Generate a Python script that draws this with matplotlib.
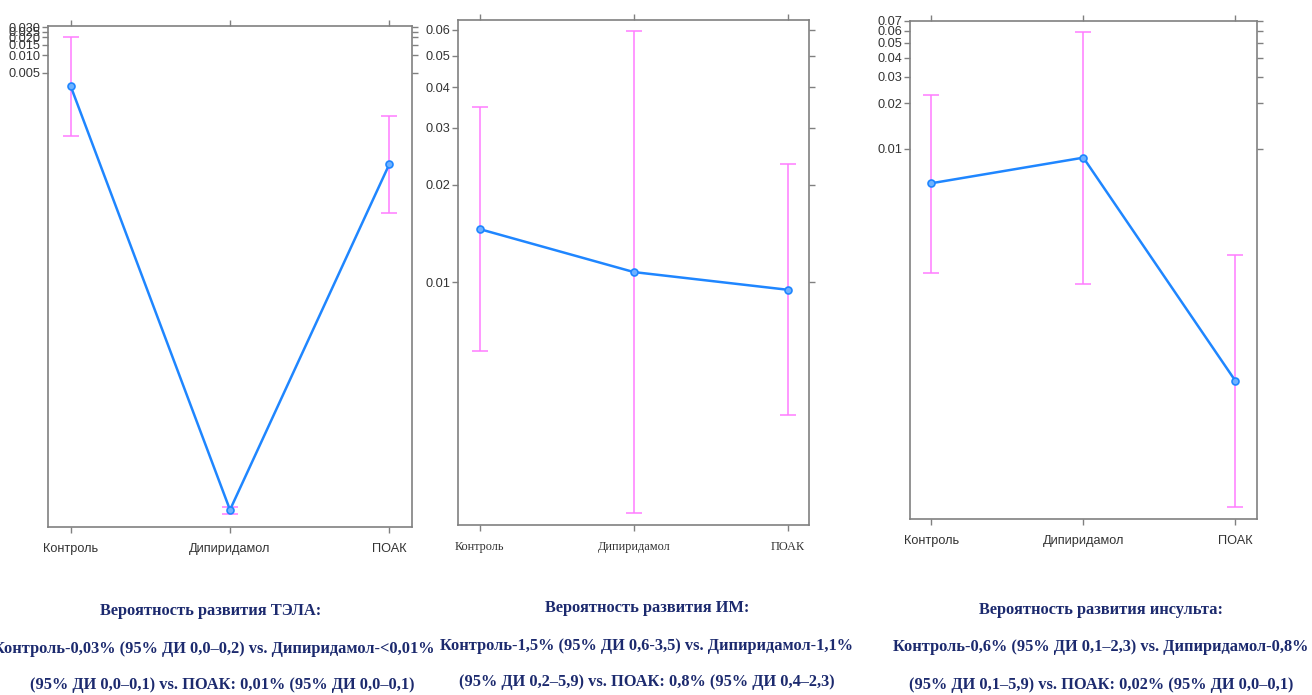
import matplotlib
matplotlib.use("Agg")
import matplotlib.pyplot as plt
from matplotlib import font_manager
from matplotlib.ticker import FixedLocator, FixedFormatter, NullLocator

# ---------------- data ----------------
categories = ["Контроль", "Дипиридамол", "ПОАК"]

tela_est = [0.00297, 1.78e-10, 1.39e-4]
tela_low = [4.22e-4, 1.52e-10, 2.06e-5]
tela_up = [0.0200, 2.03e-10, 9.25e-4]
tela_ticks = [0.005, 0.010, 0.015, 0.020, 0.025, 0.030]
tela_ticklabels = ["0.005", "0.010", "0.015", "0.020", "0.025", "0.030"]

# Panel 2: ИМ
im_est = [0.01457, 0.01074, 0.00947]
im_low = [0.00613, 0.00194, 0.00388]
im_up = [0.0347, 0.0596, 0.0232]
im_ticks = [0.01, 0.02, 0.03, 0.04, 0.05, 0.06]
im_ticklabels = ["0.01", "0.02", "0.03", "0.04", "0.05", "0.06"]

# Panel 3: инсульт
str_est = [0.00594, 0.00876, 2.96e-4]
str_low = [0.00152, 0.00128, 4.39e-5]
str_up = [0.0227, 0.0593, 0.00200]
str_ticks = [0.01, 0.02, 0.03, 0.04, 0.05, 0.06, 0.07]
str_ticklabels = ["0.01", "0.02", "0.03", "0.04", "0.05", "0.06", "0.07"]

captions = [
    ["Вероятность развития ТЭЛА:",
     "Контроль-0,03% (95% ДИ 0,0–0,2) vs. Дипиридамол-<0,01%",
     "(95% ДИ 0,0–0,1) vs. ПОАК: 0,01% (95% ДИ 0,0–0,1)"],
    ["Вероятность развития ИМ:",
     "Контроль-1,5% (95% ДИ 0,6-3,5) vs. Дипиридамол-1,1%",
     "(95% ДИ 0,2–5,9) vs. ПОАК: 0,8% (95% ДИ 0,4–2,3)"],
    ["Вероятность развития инсульта:",
     "Контроль-0,6% (95% ДИ 0,1–2,3) vs. Дипиридамол-0,8%",
     "(95% ДИ 0,1–5,9) vs. ПОАК: 0,02% (95% ДИ 0,0–0,1)"],
]

# ---------------- style ----------------
def have(fam):
    try:
        font_manager.findfont(font_manager.FontProperties(family=fam), fallback_to_default=False)
        return True
    except Exception:
        return False

NARROW = have("Liberation Sans Narrow")
SANS = ["Liberation Sans Narrow", "Liberation Sans", "DejaVu Sans"] if NARROW else ["Liberation Sans", "DejaVu Sans"]
SERIF = ["Liberation Serif", "DejaVu Serif"]

LINE_C = "#1f86ff"
ERR_C = "#ff7cff"
SPINE_C = "#808080"
TXT_C = "#333333"
CAP_C = "#1c2a6e"

W, H = 1312, 695
fig = plt.figure(figsize=(W / 100, H / 100), dpi=100)
fig.patch.set_facecolor("white")

def px_axes(l, t, r, b):
    return fig.add_axes([l / W, 1 - b / H, (r - l) / W, (b - t) / H])

panels = [
    dict(box=(48.3, 25.7, 411.7, 526.7), est=tela_est, low=tela_low, up=tela_up,
         ticks=tela_ticks, labels=tela_ticklabels, ylim=(9.2e-11, 0.0316), xfont="sans"),
    dict(box=(458.3, 20.0, 809.3, 525.0), est=im_est, low=im_low, up=im_up,
         ticks=im_ticks, labels=im_ticklabels, ylim=(0.00178, 0.0644), xfont="serif"),
    dict(box=(910.0, 20.7, 1256.7, 519.0), est=str_est, low=str_low, up=str_up,
         ticks=str_ticks, labels=str_ticklabels, ylim=(3.64e-5, 0.070), xfont="sans"),
]

xs = [1, 2, 3]
ysize = 10.5 if NARROW else 9.2
xsize = 11 if NARROW else 9.2

for p in panels:
    ax = px_axes(*p["box"])
    ax.set_yscale("log")
    yerr = [[e - lo for e, lo in zip(p["est"], p["low"])],
            [u - e for e, u in zip(p["est"], p["up"])]]
    ax.errorbar(xs, p["est"], yerr=yerr, fmt="none", ecolor=ERR_C, elinewidth=1.1,
                capsize=6, capthick=1.1, zorder=2)
    ax.plot(xs, p["est"], color=LINE_C, lw=1.8, marker="o", ms=5,
            mfc="#6fb2ff", mec=LINE_C, mew=1.2, zorder=3)
    ax.set_xlim(0.86, 3.14)
    ax.set_ylim(*p["ylim"])
    ax.yaxis.set_major_locator(FixedLocator(p["ticks"]))
    ax.yaxis.set_major_formatter(FixedFormatter(p["labels"]))
    ax.yaxis.set_minor_locator(NullLocator())
    ax.set_xticks(xs)
    ax.set_xticklabels(categories)
    for s in ax.spines.values():
        s.set_color(SPINE_C)
        s.set_linewidth(1.2)
    ax.tick_params(axis="both", which="major", direction="out", length=4.5, width=1.0,
                   color=SPINE_C, labelcolor=TXT_C, top=True, right=True,
                   labeltop=False, labelright=False)
    ax.tick_params(axis="y", pad=1)
    ax.tick_params(axis="x", pad=7)
    for lab in ax.get_yticklabels():
        lab.set_family(SANS)
        lab.set_fontsize(ysize)
    for lab in ax.get_xticklabels():
        if p["xfont"] == "serif":
            lab.set_family(SERIF)
            lab.set_fontsize(8.8)
        else:
            lab.set_family(SANS)
            lab.set_fontsize(xsize)

# captions
cap_centers = [
    [(211, 611), (214, 649), (222, 685)],
    [(647, 608), (647, 646), (647, 682)],
    [(1101, 610), (1101, 647), (1101, 685)],
]
renderer = fig.canvas.get_renderer()
probe = fig.text(0, 0, captions[1][1], fontsize=12, family=SERIF, fontweight="bold")
wpx = probe.get_window_extent(renderer).width
probe.remove()
cap_fs = 12 * 411.0 / wpx

for lines, centers in zip(captions, cap_centers):
    for txt, (cx, cy) in zip(lines, centers):
        fig.text(cx / W, 1 - cy / H, txt, ha="center", va="center", fontsize=cap_fs,
                 family=SERIF, fontweight="bold", color=CAP_C)

fig.savefig("out.png", dpi=100, facecolor="white")
